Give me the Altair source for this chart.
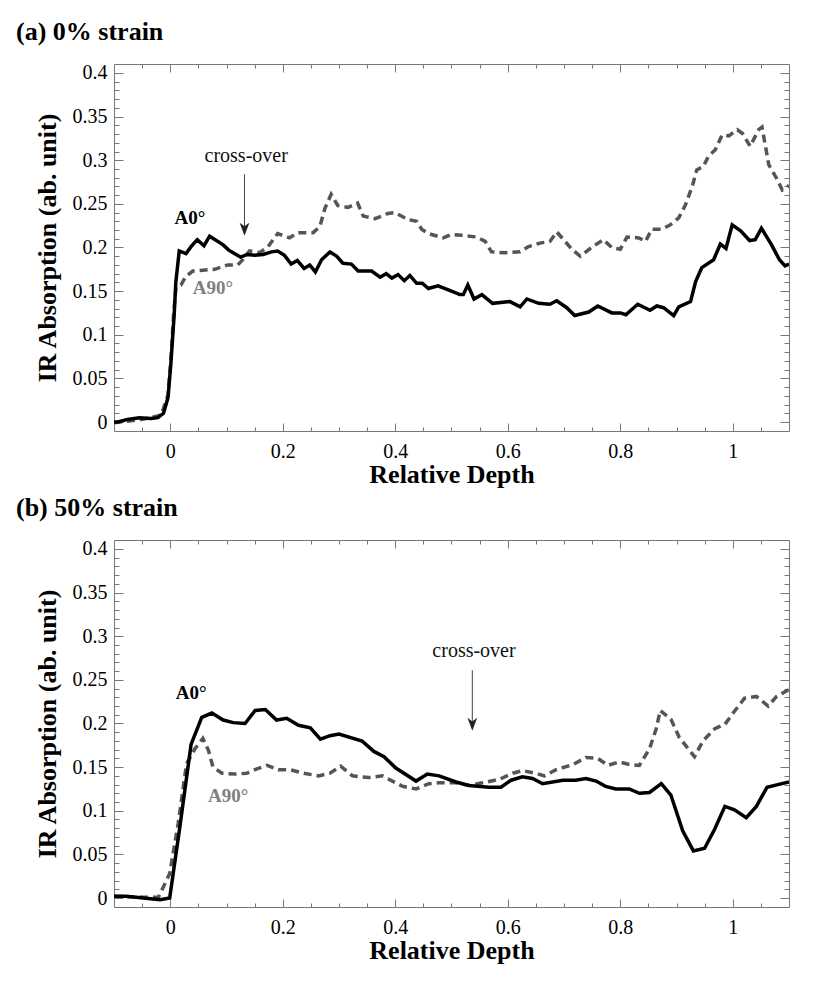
import altair as alt
import pandas as pd

# ---------------- data ----------------
top_a0_x = [-0.1, -0.093, -0.076, -0.055, -0.034, -0.022, -0.012, -0.004, 0.001, 0.007, 0.010, 0.016,
            0.028, 0.037, 0.048, 0.060, 0.070, 0.082, 0.094, 0.104, 0.114, 0.125, 0.137, 0.150, 0.165,
            0.180, 0.191, 0.203, 0.215, 0.226, 0.238, 0.248, 0.258, 0.269, 0.284, 0.296, 0.307, 0.322,
            0.334, 0.358, 0.373, 0.384, 0.394, 0.405, 0.416, 0.426, 0.438, 0.448, 0.459, 0.476, 0.500,
            0.515, 0.521, 0.529, 0.540, 0.554, 0.573, 0.604, 0.622, 0.634, 0.655, 0.675, 0.687, 0.705,
            0.719, 0.744, 0.760, 0.785, 0.800, 0.810, 0.831, 0.853, 0.865, 0.877, 0.895, 0.904, 0.925,
            0.934, 0.945, 0.966, 0.978, 0.988, 0.999, 1.014, 1.030, 1.040, 1.051, 1.069, 1.083, 1.093, 1.1]
top_a0_y = [0.000, 0.000, 0.003, 0.005, 0.004, 0.005, 0.010, 0.028, 0.066, 0.123, 0.161, 0.196,
            0.193, 0.201, 0.209, 0.202, 0.213, 0.208, 0.203, 0.197, 0.193, 0.189, 0.192, 0.191, 0.192,
            0.195, 0.196, 0.191, 0.181, 0.185, 0.176, 0.180, 0.172, 0.186, 0.195, 0.190, 0.182, 0.181,
            0.173, 0.173, 0.166, 0.170, 0.165, 0.169, 0.162, 0.168, 0.159, 0.159, 0.153, 0.156, 0.150,
            0.146, 0.146, 0.157, 0.141, 0.146, 0.136, 0.138, 0.132, 0.141, 0.136, 0.135, 0.139, 0.131,
            0.122, 0.126, 0.133, 0.125, 0.125, 0.123, 0.135, 0.128, 0.133, 0.131, 0.122, 0.132, 0.138,
            0.161, 0.177, 0.186, 0.204, 0.199, 0.226, 0.219, 0.208, 0.209, 0.222, 0.203, 0.186, 0.179, 0.181]

top_a90_x = [-0.1, -0.076, -0.052, -0.034, -0.016, -0.004, 0.001, 0.006, 0.010, 0.019, 0.028, 0.040,
             0.058, 0.079, 0.102, 0.120, 0.129, 0.141, 0.159, 0.174, 0.191, 0.212, 0.227, 0.254, 0.266,
             0.275, 0.286, 0.298, 0.316, 0.333, 0.343, 0.364, 0.387, 0.399, 0.423, 0.438, 0.447, 0.459,
             0.485, 0.500, 0.518, 0.545, 0.560, 0.571, 0.595, 0.622, 0.637, 0.657, 0.675, 0.687, 0.702,
             0.714, 0.729, 0.749, 0.770, 0.785, 0.800, 0.812, 0.833, 0.845, 0.856, 0.874, 0.889, 0.904,
             0.916, 0.928, 0.936, 0.948, 0.957, 0.969, 0.981, 0.993, 1.008, 1.017, 1.031, 1.046, 1.052,
             1.064, 1.079, 1.088, 1.1]
top_a90_y = [-0.001, 0.001, 0.003, 0.005, 0.008, 0.031, 0.070, 0.123, 0.154, 0.157, 0.167, 0.173,
             0.174, 0.175, 0.180, 0.180, 0.186, 0.196, 0.194, 0.201, 0.216, 0.211, 0.217, 0.217, 0.224,
             0.245, 0.261, 0.248, 0.246, 0.251, 0.236, 0.233, 0.239, 0.240, 0.232, 0.230, 0.221, 0.216,
             0.211, 0.215, 0.214, 0.212, 0.207, 0.195, 0.194, 0.195, 0.201, 0.205, 0.207, 0.218, 0.207,
             0.198, 0.190, 0.200, 0.209, 0.200, 0.198, 0.212, 0.211, 0.207, 0.221, 0.221, 0.226, 0.234,
             0.249, 0.270, 0.289, 0.293, 0.305, 0.312, 0.329, 0.328, 0.335, 0.331, 0.316, 0.335, 0.338,
             0.295, 0.278, 0.266, 0.271]

bot_a0_x = [-0.1, -0.078, -0.048, -0.018, -0.001, 0.017, 0.037, 0.056, 0.074, 0.094, 0.112, 0.133,
            0.151, 0.169, 0.189, 0.207, 0.228, 0.249, 0.267, 0.284, 0.300, 0.341, 0.362, 0.380, 0.401,
            0.437, 0.457, 0.478, 0.508, 0.531, 0.567, 0.588, 0.606, 0.626, 0.644, 0.662, 0.698, 0.721,
            0.739, 0.757, 0.774, 0.792, 0.816, 0.834, 0.852, 0.873, 0.890, 0.911, 0.930, 0.950, 0.968,
            0.986, 1.003, 1.024, 1.042, 1.061, 1.080, 1.1]
bot_a0_y = [0.002, 0.002, 0.000, -0.002, 0.000, 0.081, 0.176, 0.207, 0.212, 0.204, 0.201, 0.200,
            0.215, 0.216, 0.204, 0.206, 0.198, 0.195, 0.182, 0.186, 0.188, 0.180, 0.168, 0.162, 0.149,
            0.134, 0.142, 0.140, 0.133, 0.129, 0.127, 0.127, 0.135, 0.139, 0.137, 0.131, 0.135, 0.135,
            0.137, 0.134, 0.128, 0.125, 0.125, 0.120, 0.121, 0.131, 0.118, 0.077, 0.054, 0.057, 0.079,
            0.105, 0.101, 0.092, 0.105, 0.127, 0.130, 0.133]

bot_a90_x = [-0.1, -0.048, -0.021, -0.012, -0.001, 0.014, 0.029, 0.044, 0.058, 0.068, 0.076, 0.092,
             0.115, 0.136, 0.154, 0.172, 0.192, 0.213, 0.237, 0.264, 0.284, 0.303, 0.324, 0.353, 0.377,
             0.395, 0.413, 0.437, 0.460, 0.478, 0.508, 0.531, 0.555, 0.585, 0.609, 0.626, 0.650, 0.665,
             0.686, 0.716, 0.739, 0.760, 0.778, 0.798, 0.816, 0.834, 0.852, 0.864, 0.871, 0.890, 0.905,
             0.932, 0.947, 0.968, 0.986, 1.003, 1.021, 1.042, 1.063, 1.078, 1.1]
bot_a90_y = [0.002, 0.001, 0.001, 0.013, 0.028, 0.085, 0.154, 0.171, 0.183, 0.169, 0.150, 0.143,
             0.142, 0.143, 0.148, 0.152, 0.147, 0.147, 0.143, 0.140, 0.143, 0.151, 0.140, 0.138, 0.140,
             0.134, 0.128, 0.125, 0.131, 0.132, 0.132, 0.129, 0.132, 0.136, 0.143, 0.146, 0.143, 0.140,
             0.147, 0.153, 0.161, 0.160, 0.152, 0.156, 0.153, 0.152, 0.171, 0.194, 0.215, 0.205, 0.184,
             0.162, 0.180, 0.194, 0.199, 0.214, 0.229, 0.231, 0.220, 0.231, 0.239]

# tick values / labels
x_major = [0, 0.2, 0.4, 0.6, 0.8, 1.0]
x_minor = [-0.05, 0.05, 0.1, 0.15, 0.25, 0.3, 0.35, 0.45, 0.5, 0.55, 0.65, 0.7, 0.75,
           0.85, 0.9, 0.95, 1.05]
y_major = [0, 0.05, 0.1, 0.15, 0.2, 0.25, 0.3, 0.35, 0.4]
y_minor = [round(i * 0.01, 2) for i in range(0, 41) if i % 5 != 0]

# annotations
top_labels = ["A0°", "A90°", "cross-over"]
top_label_x = [0.035, 0.076, 0.135]
top_label_y = [0.234, 0.154, 0.305]
top_arrow = {"x": 0.132, "y_from": 0.284, "y_to": 0.221}

bot_labels = ["A0°", "A90°", "cross-over"]
bot_label_x = [0.037, 0.103, 0.540]
bot_label_y = [0.235, 0.117, 0.283]
bot_arrow = {"x": 0.537, "y_from": 0.261, "y_to": 0.199}

SERIF = "Liberation Serif"
FRAME = "#777777"
X_DOM = [-0.1, 1.1]
Y_DOM = [-0.0103, 0.4103]
W, H = 675, 367

xs = alt.Scale(domain=X_DOM, nice=False, zero=False)
ys = alt.Scale(domain=Y_DOM, nice=False, zero=False)


def tick_axis(orient, values, size):
    return alt.Axis(orient=orient, values=values, labels=False, domain=False, grid=False,
                    ticks=True, tickSize=size, offset=-size, tickColor=FRAME, tickWidth=1,
                    title=None)


def panel(a0x, a0y, a90x, a90y, labels, lx, ly, arrow, title):
    d0 = pd.DataFrame({"x": a0x, "y": a0y})
    d90 = pd.DataFrame({"x": a90x, "y": a90y})

    x_lab = alt.Axis(orient="bottom", values=x_major, format="~g", ticks=False, domain=False,
                     grid=False, labelPadding=10, labelFont=SERIF, labelFontSize=20,
                     labelColor="#000000", title="Relative Depth", titlePadding=0,
                     titleFont=SERIF, titleFontSize=26, titleFontWeight="bold", titleColor="#000000")
    y_lab = alt.Axis(orient="left", values=y_major, format="~g", ticks=False, domain=False,
                     grid=False, labelPadding=7, labelFont=SERIF, labelFontSize=20,
                     labelColor="#000000", title="IR Absorption (ab. unit)", titlePadding=12,
                     titleFont=SERIF, titleFontSize=26, titleFontWeight="bold", titleColor="#000000")

    dashed = alt.Chart(d90).mark_line(color="#555555", strokeWidth=3.5, strokeDash=[8, 5],
                                      clip=True).encode(
        x=alt.X("x:Q", scale=xs, axis=x_lab),
        y=alt.Y("y:Q", scale=ys, axis=y_lab),
    )
    solid = alt.Chart(d0).mark_line(color="#000000", strokeWidth=3.5, clip=True).encode(
        x=alt.X("x:Q", scale=xs, axis=None),
        y=alt.Y("y:Q", scale=ys, axis=None),
    )

    def ticks(xo, xv, xsz, yo, yv, ysz):
        return alt.Chart(d0).mark_point(opacity=0).encode(
            x=alt.X("x:Q", scale=xs, axis=tick_axis(xo, xv, xsz)),
            y=alt.Y("y:Q", scale=ys, axis=tick_axis(yo, yv, ysz)),
        )

    t1 = ticks("bottom", x_major, 8, "left", y_major, 9)
    t2 = ticks("bottom", x_minor, 4, "left", y_minor, 5)
    t3 = ticks("top", x_major, 8, "right", y_major, 9)
    t4 = ticks("top", x_minor, 4, "right", y_minor, 5)

    ann = pd.DataFrame({"t": labels, "x": lx, "y": ly})
    a0_txt = alt.Chart(ann[ann.t == "A0°"]).mark_text(font=SERIF, fontSize=19, fontWeight="bold",
                                                       color="#000000").encode(
        x=alt.X("x:Q", scale=xs, axis=None), y=alt.Y("y:Q", scale=ys, axis=None), text="t:N")
    a90_txt = alt.Chart(ann[ann.t == "A90°"]).mark_text(font=SERIF, fontSize=19, fontWeight="bold",
                                                         color="#808080").encode(
        x=alt.X("x:Q", scale=xs, axis=None), y=alt.Y("y:Q", scale=ys, axis=None), text="t:N")
    co_txt = alt.Chart(ann[ann.t == "cross-over"]).mark_text(font=SERIF, fontSize=20,
                                                              color="#111111").encode(
        x=alt.X("x:Q", scale=xs, axis=None), y=alt.Y("y:Q", scale=ys, axis=None), text="t:N")

    arr = pd.DataFrame({"x": [arrow["x"]], "y": [arrow["y_from"]], "y2": [arrow["y_to"]]})
    rule = alt.Chart(arr).mark_rule(color="#444444", strokeWidth=1).encode(
        x=alt.X("x:Q", scale=xs, axis=None), y=alt.Y("y:Q", scale=ys, axis=None), y2="y2:Q")
    head = alt.Chart(arr).mark_point(shape="M-0.75,-1 L0,1 L0.75,-1 L0,-0.45 Z", filled=True,
                                     size=169, color="#222222", opacity=1).encode(
        x=alt.X("x:Q", scale=xs, axis=None), y=alt.Y("y2:Q", scale=ys, axis=None))

    return alt.layer(t1, t2, t3, t4, dashed, solid, a0_txt, a90_txt, co_txt, rule, head).resolve_axis(
        x="independent", y="independent"
    ).properties(
        width=W, height=H,
        title=alt.TitleParams(title, anchor="start", frame="group", dx=-98, font=SERIF, fontSize=26,
                              fontWeight="bold", color="#000000", offset=18),
    )


top = panel(top_a0_x, top_a0_y, top_a90_x, top_a90_y, top_labels, top_label_x, top_label_y,
            top_arrow, "(a) 0% strain")
bottom = panel(bot_a0_x, bot_a0_y, bot_a90_x, bot_a90_y, bot_labels, bot_label_x, bot_label_y,
               bot_arrow, "(b) 50% strain")

chart = alt.vconcat(top, bottom, spacing=6).properties(
    padding={"left": 7, "top": 10, "right": 5, "bottom": 5},
    background="white",
).configure_view(
    stroke=FRAME, strokeWidth=1
).configure_axis(
    labelFont=SERIF, labelFontSize=20, labelColor="#000000",
    titleFont=SERIF, titleFontSize=26, titleFontWeight="bold", titleColor="#000000",
)

chart.save("out.html", embed_options={"renderer": "svg", "actions": False})
